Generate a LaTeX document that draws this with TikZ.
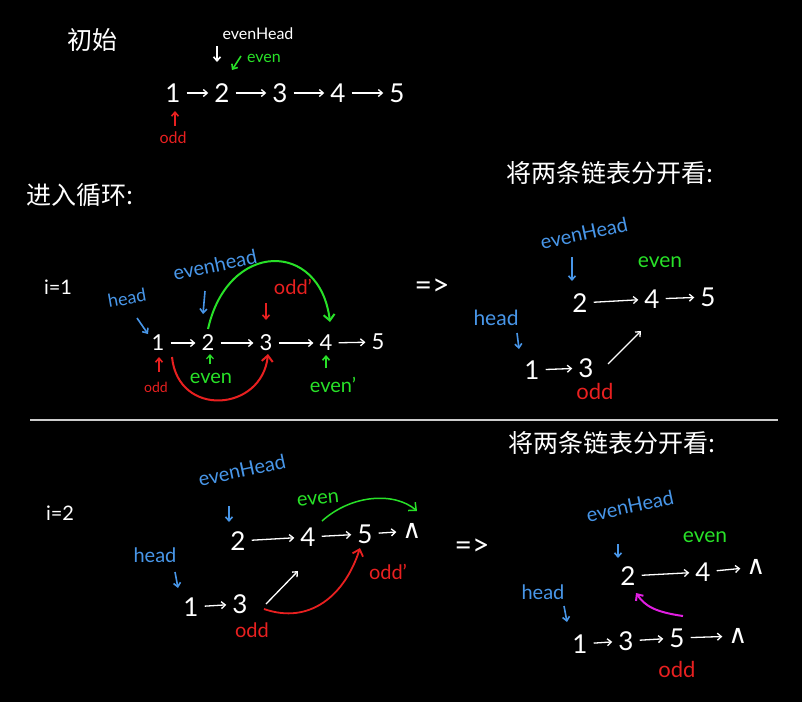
\documentclass[tikz,border=0pt]{standalone}
\usepackage{fontspec}
\setmainfont{Lato}
\newfontfamily\cjk{Noto Sans CJK SC}
\newfontfamily\dvs{DejaVu Sans}
\usetikzlibrary{arrows.meta}
\definecolor{hgreen}{RGB}{40,225,40}
\definecolor{hred}{RGB}{232,32,32}
\definecolor{hblue}{RGB}{72,150,232}
\definecolor{hmag}{RGB}{225,30,225}
\newcommand\fsz[1]{\fontsize{#1}{#1}\selectfont}
\begin{document}
\begin{tikzpicture}[x=1pt,y=-1pt,
  num/.style={text=white,font=\fsz{26},inner sep=3pt},
  snum/.style={text=white,font=\fsz{22},inner sep=3pt},
  nul/.style={text=white,font=\dvs\fsz{26},inner sep=3pt},
  cjkt/.style={text=white,font=\cjk\fsz{25},inner sep=0pt},
  wt/.style={text=white,inner sep=1pt},
  bl/.style={text=hblue,inner sep=1pt},
  gr/.style={text=hgreen,inner sep=1pt},
  rd/.style={text=hred,inner sep=1pt},
  tip/.style={-{Straight Barb[length=4pt,width=7pt]}},
  ch/.style={draw=white,line width=1.3pt,tip,shorten >=3pt,shorten <=3pt},
  ptr/.style={line width=1.6pt,tip},
  arcg/.style={draw=hgreen,line width=2pt,-{Straight Barb[length=6pt,width=11pt]}},
  arcr/.style={draw=hred,line width=2pt,-{Straight Barb[length=6pt,width=11pt]}},
]
\fill[black] (0,0) rectangle (802,702);
\useasboundingbox (0,0) rectangle (802,702);

%% ---------- section 1 ----------
\node[cjkt] (t1) at (92,40) {初始};
\node[wt,font=\fsz{16}] (s1eh) at (258,34) {evenHead};
\node[gr,font=\fsz{16}] (s1ev) at (264,58) {even};
\node[num] (a1) at (173,93) {1};
\node[num] (a2) at (222,93) {2};
\node[num] (a3) at (280,93) {3};
\node[num] (a4) at (338,93) {4};
\node[num] (a5) at (397,93) {5};
\draw[ch] (a1) -- (a2);
\draw[ch] (a2) -- (a3);
\draw[ch] (a3) -- (a4);
\draw[ch] (a4) -- (a5);
\coordinate (p1a) at (217,46); \coordinate (p1b) at (217,62);
\draw[ptr,white] (p1a) -- (p1b);
\coordinate (p2a) at (241,56); \coordinate (p2b) at (232,70);
\draw[ptr,hgreen] (p2a) -- (p2b);
\node[rd,font=\fsz{16}] (s1od) at (173,138) {odd};
\coordinate (p3a) at (175,126); \coordinate (p3b) at (175,111);
\draw[ptr,hred] (p3a) -- (p3b);

%% ---------- section 2 ----------
\node[cjkt] (t2) at (80,195) {进入循环:};
\node[wt,font=\fsz{20}] (i1) at (58,287) {i=1};
\node[bl,font=\fsz{18},rotate=10] (b2h) at (127,298) {head};
\node[bl,font=\fsz{20},rotate=12] (b2eh) at (215,265) {evenhead};
\node[snum] (b1) at (158,343) {1};
\node[snum] (b2) at (208,343) {2};
\node[snum] (b3) at (266,343) {3};
\node[snum] (b4) at (326,343) {4};
\node[snum] (b5) at (378,342) {5};
\draw[ch] (b1) -- (b2);
\draw[ch] (b2) -- (b3);
\draw[ch] (b3) -- (b4);
\draw[ch] (b4) -- (b5);
\coordinate (q1a) at (137,318); \coordinate (q1b) at (148,334);
\draw[ptr,hblue] (q1a) -- (q1b);
\coordinate (q2a) at (205,291); \coordinate (q2b) at (203,314);
\draw[ptr,hblue] (q2a) -- (q2b);
\node[rd,font=\fsz{20}] (b2od) at (293,287) {odd'};
\coordinate (q3a) at (266,303); \coordinate (q3b) at (266,320);
\draw[ptr,hred] (q3a) -- (q3b);
\coordinate (g1s) at (208,329); \coordinate (g1e) at (330,322);
\draw[arcg] (g1s) .. controls (228,240) and (320,240) .. (g1e);
\node[rd,font=\fsz{14}] (b2odd) at (156,387) {odd};
\coordinate (q4a) at (159,372); \coordinate (q4b) at (159,357);
\draw[ptr,hred] (q4a) -- (q4b);
\node[gr,font=\fsz{20}] (b2ev) at (211,378) {even};
\coordinate (q5a) at (210,364); \coordinate (q5b) at (210,354);
\draw[ptr,hgreen,line width=1.2pt] (q5a) -- (q5b);
\coordinate (r1s) at (172,357); \coordinate (r1e) at (268,354);
\draw[arcr] (r1s) .. controls (178,418) and (262,412) .. (r1e);
\node[gr,font=\fsz{20}] (b2ev2) at (333,385) {even'};
\coordinate (q6a) at (326,368); \coordinate (q6b) at (326,355);
\draw[ptr,hgreen] (q6a) -- (q6b);

\node[wt,font=\fsz{30}] (im1) at (432,287) {=>};
\node[cjkt] (t3) at (610,173) {将两条链表分开看:};
\node[bl,font=\fsz{20},rotate=12] (c2eh) at (584,233) {evenHead};
\coordinate (q7a) at (572,257); \coordinate (q7b) at (572,281);
\draw[ptr,hblue] (q7a) -- (q7b);
\node[gr,font=\fsz{21}] (c2ev) at (660,262) {even};
\node[num] (c2) at (580,303) {2};
\node[num] (c4) at (652,299) {4};
\node[num] (c5) at (708,297) {5};
\draw[ch] (c2) -- (c4);
\draw[ch] (c4) -- (c5);
\node[bl,font=\fsz{21}] (c2h) at (496,318) {head};
\coordinate (q8a) at (517,333); \coordinate (q8b) at (519,349);
\draw[ptr,hblue] (q8a) -- (q8b);
\node[num] (c1) at (532,370) {1};
\node[num] (c3) at (586,368) {3};
\draw[ch] (c1) -- (c3);
\coordinate (w1a) at (608,364); \coordinate (w1b) at (641,331);
\draw[ch,shorten <=0pt,shorten >=0pt] (w1a) -- (w1b);
\node[rd,font=\fsz{22}] (c2od) at (595,391) {odd};

%% divider
\coordinate (la) at (30,420); \coordinate (lb) at (778,420);
\draw[line width=1.5pt,white!80!black] (la) -- (lb);

%% ---------- section 3 ----------
\node[wt,font=\fsz{20}] (i2) at (60,513) {i=2};
\node[bl,font=\fsz{20},rotate=12] (d2eh) at (242,470) {evenHead};
\coordinate (s1a) at (229,506); \coordinate (s1b) at (229,522);
\draw[ptr,hblue] (s1a) -- (s1b);
\node[gr,font=\fsz{20},rotate=6] (d2ev) at (318,499) {even};
\node[num] (d2) at (238,541) {2};
\node[num] (d4) at (308,537) {4};
\node[num] (d5) at (365,534) {5};
\node[nul] (d6) at (412,531) {∧};
\draw[ch] (d2) -- (d4);
\draw[ch] (d4) -- (d5);
\draw[ch] (d5) -- (d6);
\coordinate (g2s) at (322,521); \coordinate (g2e) at (417,511);
\draw[arcg,line width=1.5pt] (g2s) .. controls (352,494) and (395,492) .. (g2e);
\node[bl,font=\fsz{20}] (d2h) at (155,555) {head};
\coordinate (s2a) at (175,572); \coordinate (s2b) at (178,588);
\draw[ptr,hblue] (s2a) -- (s2b);
\node[num] (d1) at (191,607) {1};
\node[num] (d3) at (240,604) {3};
\draw[ch] (d1) -- (d3);
\coordinate (w2a) at (266,604); \coordinate (w2b) at (298,571);
\draw[ch,shorten <=0pt,shorten >=0pt] (w2a) -- (w2b);
\coordinate (r2s) at (264,609); \coordinate (r2e) at (360,548);
\draw[arcr,line width=1.8pt] (r2s) .. controls (310,625) and (345,595) .. (r2e);
\node[rd,font=\fsz{20}] (d2od2) at (388,572) {odd'};
\node[rd,font=\fsz{20}] (d2od) at (252,630) {odd};

\node[wt,font=\fsz{30}] (im2) at (472,547) {=>};
\node[cjkt] (t4) at (612,443) {将两条链表分开看:};
\node[bl,font=\fsz{20},rotate=12] (e2eh) at (630,506) {evenHead};
\coordinate (s3a) at (618,544); \coordinate (s3b) at (618,558);
\draw[ptr,hblue] (s3a) -- (s3b);
\node[gr,font=\fsz{21}] (e2ev) at (705,537) {even};
\node[num] (e2) at (628,576) {2};
\node[num] (e4) at (703,572) {4};
\node[nul] (e6) at (756,567) {∧};
\draw[ch] (e2) -- (e4);
\draw[ch] (e4) -- (e6);
\coordinate (m1s) at (683,616); \coordinate (m1e) at (636,593);
\draw[draw=hmag,line width=2pt,-{Straight Barb[length=5pt,width=9pt]}] (m1s) .. controls (655,612) and (645,606) .. (m1e);
\node[bl,font=\fsz{20}] (e2h) at (543,592) {head};
\coordinate (s4a) at (564,606); \coordinate (s4b) at (567,622);
\draw[ptr,hblue] (s4a) -- (s4b);
\node[num] (e1) at (580,644) {1};
\node[num] (e3) at (626,641) {3};
\node[num] (e5) at (677,638) {5};
\node[nul] (e7) at (738,636) {∧};
\draw[ch] (e1) -- (e3);
\draw[ch] (e3) -- (e5);
\draw[ch] (e5) -- (e7);
\node[rd,font=\fsz{22}] (e2od) at (677,669) {odd};
\end{tikzpicture}
\end{document}
